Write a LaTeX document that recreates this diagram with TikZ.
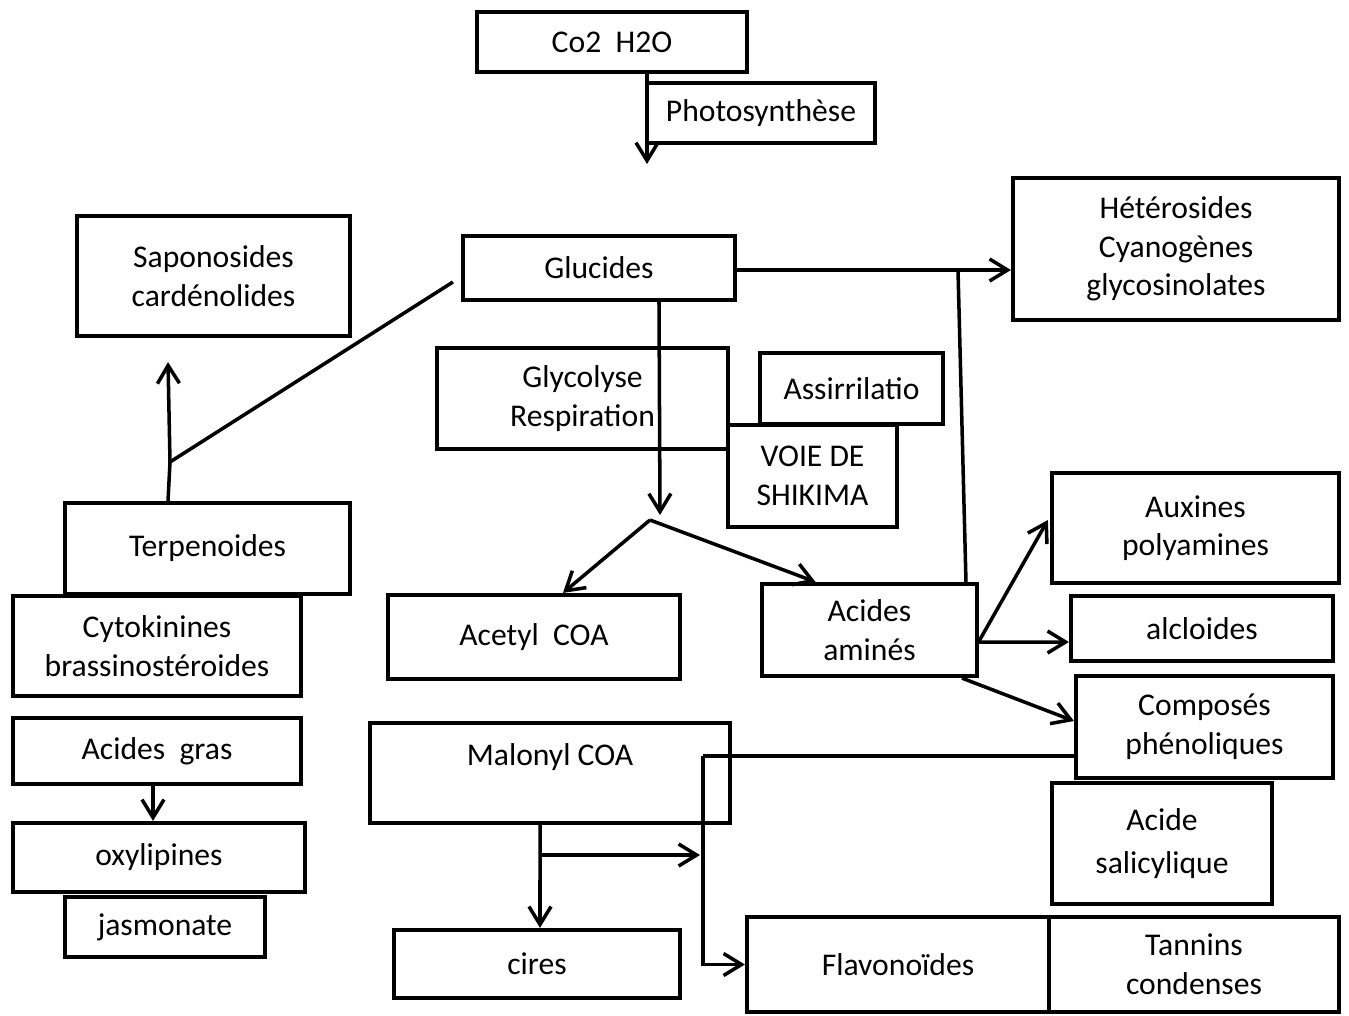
\documentclass[tikz,border=0pt]{standalone}
\usepackage{fontspec}
\setmainfont{Carlito}
\usetikzlibrary{arrows.meta,positioning,calc}

\begin{document}
\begin{tikzpicture}[x=0.02cm,y=-0.02cm,
    box/.style={draw,line width=2.4pt,align=center,inner sep=0pt,font=\fontsize{18}{22}\selectfont},
    arrow/.style={-{Straight Barb[length=0.36cm,width=0.44cm]},line width=2pt},
    link/.style={line width=2pt}]
  \useasboundingbox (0,0) rectangle (1349,1015);
  % boxes
  \node[box,minimum width=5.4cm,minimum height=1.2cm] (co2) at (612,42) {Co2\ \ H2O};
  \node[box,minimum width=4.56cm,minimum height=1.2cm] (photo) at (761,113) {Photosynthèse};
  \node[box,minimum width=5.44cm,minimum height=1.28cm] (glucides) at (599,268) {Glucides};
  \node[box,minimum width=6.52cm,minimum height=2.84cm] (hetero) at (1176,249) {Hétérosides\\Cyanogènes\\glycosinolates};
  \node[box,minimum width=5.46cm,minimum height=2.4cm] (sapo) at (213.5,276) {Saponosides\\cardénolides};
  \node[box,minimum width=5.82cm,minimum height=2.02cm] (glyco) at (582.5,398.5) {Glycolyse\\Respiration};
  \node[box,minimum width=3.66cm,minimum height=1.42cm] (assir) at (851.5,388.5) {Assirrilatio};
  \node[box,minimum width=3.38cm,minimum height=2.04cm] (voie) at (812.5,476) {VOIE DE\\SHIKIMA};
  \node[box,minimum width=5.7cm,minimum height=1.82cm] (terp) at (207.5,548.5) {Terpenoides};
  \node[box,minimum width=5.76cm,minimum height=2cm] (cyto) at (157,646) {Cytokinines\\brassinostéroides};
  \node[box,minimum width=5.76cm,minimum height=1.32cm] (acgras) at (157,751) {Acides\ \ gras};
  \node[box,minimum width=5.84cm,minimum height=1.38cm] (oxy) at (159,857.5) {oxylipines};
  \node[box,minimum width=4cm,minimum height=1.2cm] (jasmo) at (165,927) {jasmonate};
  \node[box,minimum width=5.84cm,minimum height=1.68cm] (acetyl) at (534,637) {Acetyl\ \ COA};
  \node[box,minimum width=7.2cm,minimum height=2cm,text height=0.5cm,text depth=0.8cm,inner ysep=0.35cm] (malonyl) at (550,773) {Malonyl COA};
  \node[box,minimum width=5.72cm,minimum height=1.36cm] (cires) at (537,964) {cires};
  \node[box,minimum width=6.04cm,minimum height=1.9cm] (flavo) at (898,964.5) {Flavonoïdes};
  \node[box,minimum width=5.8cm,minimum height=1.9cm] (tannins) at (1194,964.5) {Tannins\\condenses};
  \node[box,minimum width=4.3cm,minimum height=1.84cm] (amines) at (869.5,630) {Acides\\aminés};
  \node[box,minimum width=5.74cm,minimum height=2.2cm] (auxines) at (1195.5,528) {Auxines\\polyamines};
  \node[box,minimum width=5.24cm,minimum height=1.3cm] (alcl) at (1202,628.5) {alcloides};
  \node[box,minimum width=5.14cm,minimum height=2.04cm] (compos) at (1204.5,727) {Composés\\phénoliques};
  \node[box,minimum width=4.4cm,minimum height=2.42cm] (salic) at (1162,843.5) {Acide\\[0.1cm]salicylique};
  % free ends
  \coordinate (photoend) at (647,164);
  \coordinate (fork) at (650,520);
  \coordinate (split) at (170,462);
  \coordinate (bend) at (703,756);
  \coordinate (malsplit) at (540,855);
  \coordinate (malend) at (700,855);
  \coordinate (hetjoin) at (958,270);
  % connectors
  \draw[arrow] (co2.south -| photoend) -- (photoend);
  \draw[arrow] ([xshift=1.2cm]glucides.south) -- ([xshift=0.2cm,yshift=0.1cm]fork);
  \draw[arrow] (fork) -- ([xshift=0.58cm]acetyl.north);
  \draw[arrow] (fork) -- ([xshift=-1.08cm]amines.north);
  \draw[arrow] (glucides.east |- hetjoin) -- (hetero.west |- hetjoin);
  \draw[link] (hetjoin) -- ([xshift=1.93cm]amines.north);
  \draw[link] ([xshift=-0.16cm,yshift=-0.28cm]glucides.west) -- (split);
  \draw[link] ([xshift=-0.79cm]terp.north) -- (split);
  \draw[arrow] (split) -- ([xshift=-0.91cm,yshift=-0.48cm]sapo.south);
  \draw[arrow] ([xshift=-0.08cm]acgras.south) -- ([xshift=-0.12cm]oxy.north);
  \draw[arrow] ([yshift=-0.22cm]amines.east) -- ([xshift=-0.04cm]auxines.west |- 0,520);
  \draw[arrow] ([yshift=-0.24cm]amines.east) -- (alcl.west |- 0,642);
  \draw[arrow] ([xshift=1.85cm]amines.south) -- ([yshift=0.12cm]compos.west);
  \draw[link] (compos.west |- bend) -- (bend);
  \draw[arrow] (bend) -- (bend |- flavo.west) -- (flavo.west);
  \draw[arrow] ([xshift=-0.2cm]malonyl.south) -- ([xshift=0.06cm]cires.north);
  \draw[arrow] (malsplit) -- (malend);
\end{tikzpicture}
\end{document}
